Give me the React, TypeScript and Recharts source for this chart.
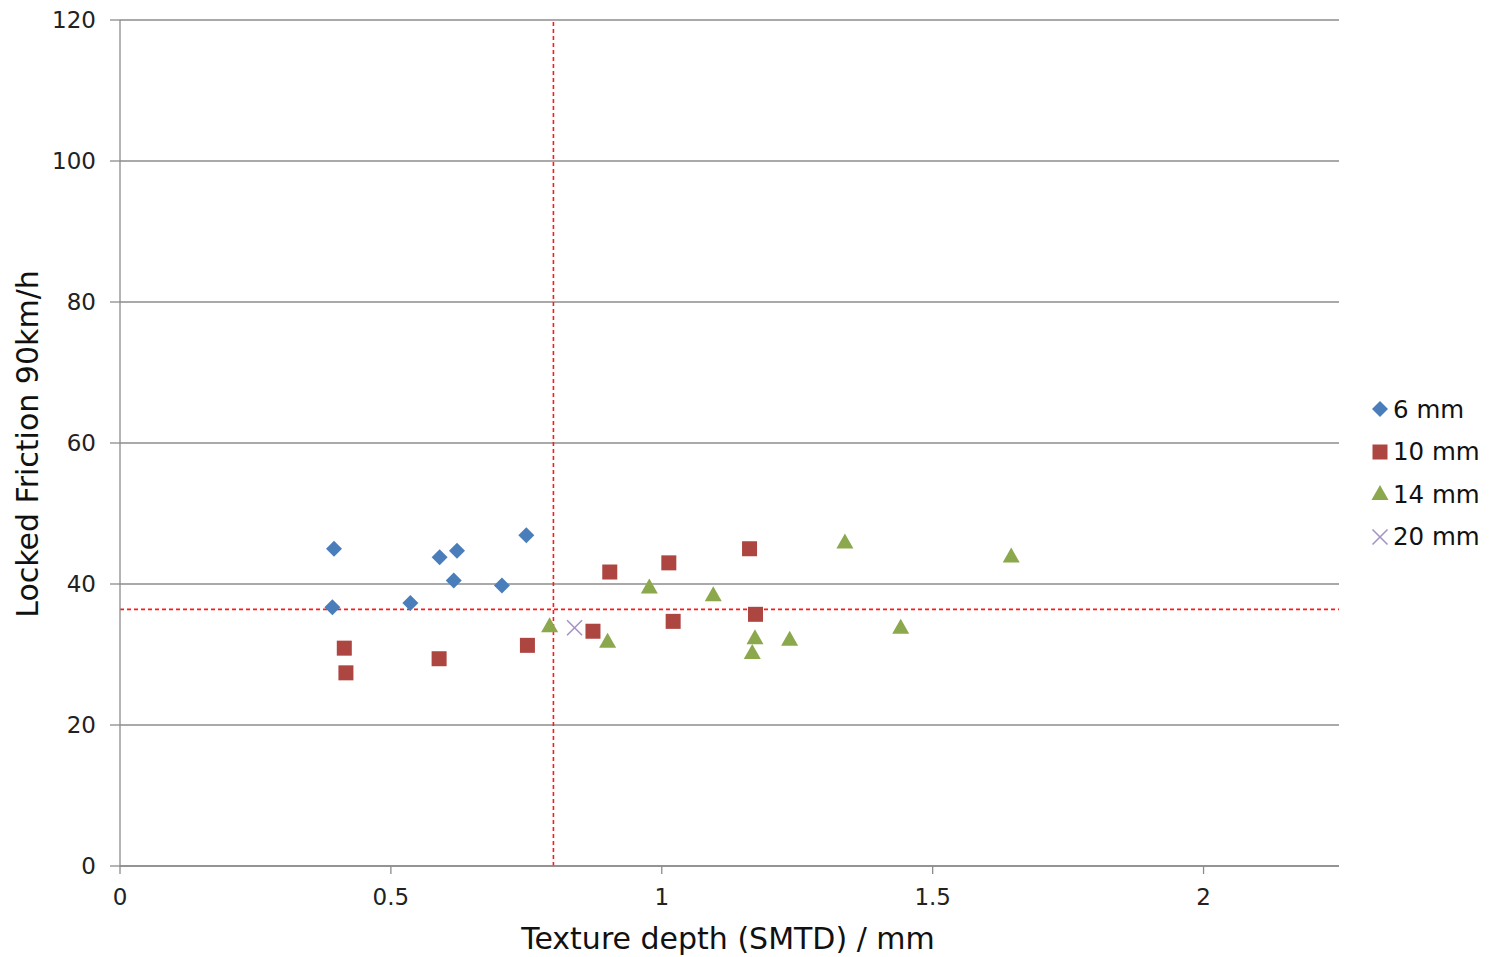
import React from "react";
import {
  ScatterChart,
  Scatter,
  XAxis,
  YAxis,
  CartesianGrid,
  ReferenceLine,
} from "recharts";

// texture depth (mm) vs locked friction at 90 km/h, grouped by aggregate size
const depth6 = [0.395, 0.392, 0.536, 0.59, 0.622, 0.616, 0.705, 0.75];
const friction6 = [45.0, 36.7, 37.3, 43.8, 44.7, 40.5, 39.8, 46.9];

const depth10 = [0.414, 0.417, 0.589, 0.752, 0.904, 1.013, 1.162, 1.173, 1.021, 0.873];
const friction10 = [30.9, 27.4, 29.4, 31.3, 41.7, 43.0, 45.0, 35.7, 34.7, 33.3];

const depth14 = [0.793, 0.9, 0.977, 1.095, 1.172, 1.167, 1.236, 1.338, 1.645, 1.441];
const friction14 = [34.0, 31.8, 39.5, 38.4, 32.3, 30.2, 32.1, 45.9, 43.9, 33.8];

const depth20 = [0.839];
const friction20 = [33.8];

const xTicks = [0, 0.5, 1, 1.5, 2];
const yTicks = [0, 20, 40, 60, 80, 100, 120];

const depthLimit = 0.8;
const frictionLimit = 36.4;

const toPoints = (xs: number[], ys: number[]) => xs.map((x, i) => ({ x, y: ys[i] }));

const FONT = "'DejaVu Sans', Verdana, sans-serif";
const BLUE = "#4A7EBB";
const RED = "#AD4541";
const GREEN = "#8BA84C";
const PURPLE = "#A395C4";

const Diamond = ({ cx, cy }: any) => (
  <polygon
    points={`${cx},${cy - 8} ${cx + 8},${cy} ${cx},${cy + 8} ${cx - 8},${cy}`}
    fill={BLUE}
  />
);
const Square = ({ cx, cy }: any) => (
  <rect x={cx - 7.5} y={cy - 7.5} width={15} height={15} fill={RED} />
);
const Triangle = ({ cx, cy }: any) => (
  <polygon
    points={`${cx},${cy - 9} ${cx + 8.5},${cy + 6} ${cx - 8.5},${cy + 6}`}
    fill={GREEN}
  />
);
const Cross = ({ cx, cy }: any) => (
  <g stroke={PURPLE} strokeWidth={1.6}>
    <line x1={cx - 7.5} y1={cy - 7.5} x2={cx + 7.5} y2={cy + 7.5} />
    <line x1={cx - 7.5} y1={cy + 7.5} x2={cx + 7.5} y2={cy - 7.5} />
  </g>
);

const legendItems = [
  { name: "6 mm", Icon: Diamond },
  { name: "10 mm", Icon: Square },
  { name: "14 mm", Icon: Triangle },
  { name: "20 mm", Icon: Cross },
];

export default function App() {
  return (
    <div style={{ position: "absolute", left: 0, top: 0, width: 1489, height: 957, background: "#fff" }}>
      <ScatterChart
        width={1489}
        height={957}
        margin={{ top: 20, right: 150, bottom: 0, left: 0 }}
      >
        <CartesianGrid vertical={false} stroke="#8c8c8c" strokeWidth={1.3} />
        <XAxis
          type="number"
          dataKey="x"
          domain={[0, 2.25]}
          ticks={xTicks}
          tickFormatter={(v) => String(v)}
          height={91}
          tickSize={8}
          tickMargin={15}
          stroke="#8c8c8c"
          strokeWidth={1.3}
          tick={{ fill: "#222", fontSize: 23, fontFamily: FONT }}
          label={{
            content: () => (
              <text x={728} y={938} textAnchor="middle" dominantBaseline="central" fontSize={30} fontFamily={FONT} fill="#111">
                Texture depth (SMTD) / mm
              </text>
            ),
          }}
        />
        <YAxis
          type="number"
          dataKey="y"
          domain={[0, 120]}
          ticks={yTicks}
          width={120}
          tickSize={10}
          tickMargin={14}
          stroke="#8c8c8c"
          strokeWidth={1.3}
          tick={{ fill: "#222", fontSize: 23, fontFamily: FONT }}
          label={{
            content: () => (
              <text
                x={27}
                y={444}
                transform="rotate(-90 27 444)"
                textAnchor="middle"
                dominantBaseline="central"
                fontSize={30}
                fontFamily={FONT}
                fill="#111"
              >
                Locked Friction 90km/h
              </text>
            ),
          }}
        />
        <ReferenceLine x={depthLimit} stroke="#ff1a1a" strokeWidth={1.6} strokeDasharray="4 3" />
        <ReferenceLine y={frictionLimit} stroke="#ff1a1a" strokeWidth={1.6} strokeDasharray="4 3" />
        <Scatter name="6 mm" data={toPoints(depth6, friction6)} shape={Diamond} isAnimationActive={false} />
        <Scatter name="10 mm" data={toPoints(depth10, friction10)} shape={Square} isAnimationActive={false} />
        <Scatter name="14 mm" data={toPoints(depth14, friction14)} shape={Triangle} isAnimationActive={false} />
        <Scatter name="20 mm" data={toPoints(depth20, friction20)} shape={Cross} isAnimationActive={false} />
      </ScatterChart>
      <div style={{ position: "absolute", left: 1370, top: 388, fontFamily: FONT, fontSize: 24.5, color: "#111" }}>
        {legendItems.map(({ name, Icon }) => (
          <div key={name} style={{ display: "flex", alignItems: "center", height: 42.5 }}>
            <svg width={22} height={20} style={{ marginRight: 1 }}>
              <Icon cx={10} cy={10} />
            </svg>
            <span>{name}</span>
          </div>
        ))}
      </div>
    </div>
  );
}
